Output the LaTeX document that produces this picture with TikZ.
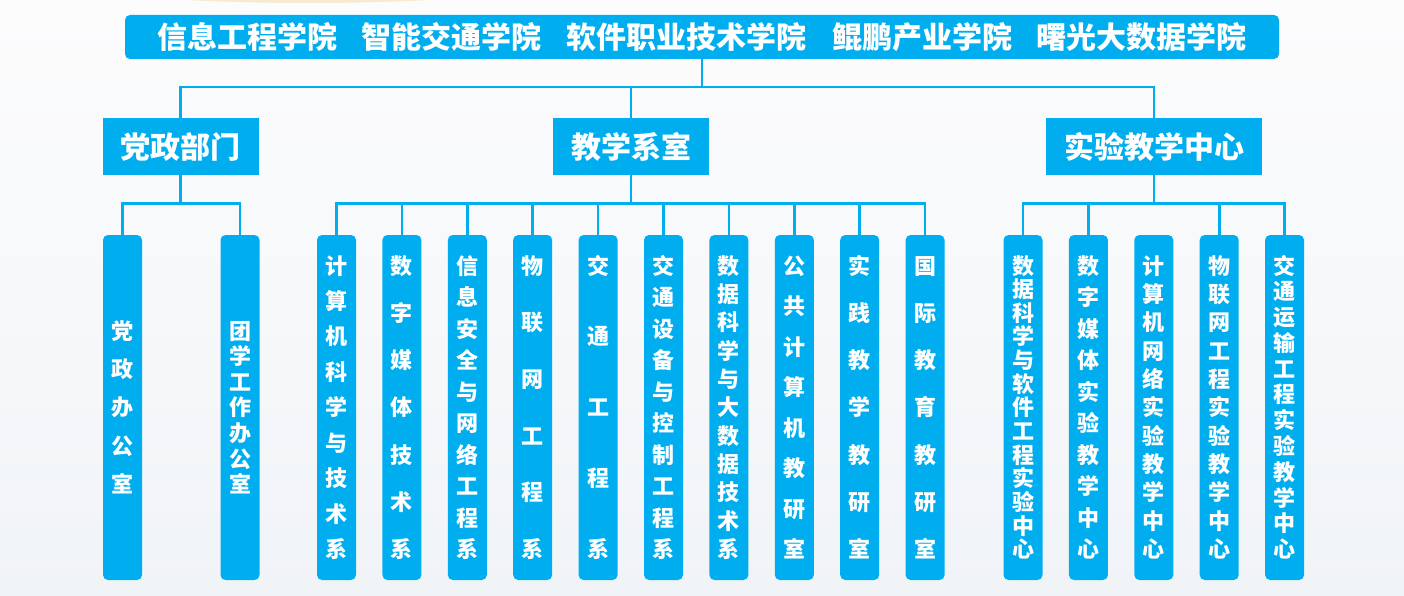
\documentclass[tikz,border=0pt]{standalone}
\usepackage{fontspec}
\usepackage{tikz}
\usetikzlibrary{positioning}

\newfontfamily\cjk{Noto Sans CJK SC}
\definecolor{boxblue}{RGB}{0,174,239}
\definecolor{bgtop}{RGB}{252,252,253}
\definecolor{bgbot}{RGB}{241,244,247}
\definecolor{glow}{RGB}{246,234,208}

% vertical text, chars spread over a fixed height
\newcommand\vstack[2]{\parbox[c][#1][s]{1.2em}{\offinterlineskip
  \foreach \ch [count=\k] in {#2}{\ifnum\k>1 \vfill\fi
    \hbox to 1.2em{\hss\rule[-0.12em]{0pt}{1em}\ch\hss}}}}

\tikzset{
  college/.style={rectangle, fill=boxblue, rounded corners=5pt, text=white,
    minimum width=1154pt, minimum height=44pt, inner sep=0pt,
    font=\cjk\bfseries\fontsize{30}{30}\selectfont},
  head/.style={rectangle, fill=boxblue, text=white, minimum height=57pt,
    inner xsep=18pt, inner ysep=0pt, font=\cjk\bfseries\fontsize{30}{30}\selectfont},
  unit/.style={rectangle, fill=boxblue, rounded corners=5pt, text=white,
    minimum width=39pt, minimum height=345pt, inner sep=0pt,
    font=\cjk\bfseries\fontsize{22}{22}\selectfont},
  link/.style={draw=boxblue, line width=2.6pt}
}

\begin{document}
\begin{tikzpicture}[x=1pt, y=-1pt, node distance=65.4pt]
    \shade[top color=bgtop, bottom color=bgbot] (0,0) rectangle (1404,596);
    \useasboundingbox (0,0) rectangle (1404,596);
    \fill[glow] (308,-17) ellipse [x radius=230, y radius=20];

    \node[college] (college) at (702,37) {信息工程学院\hspace{25pt}智能交通学院\hspace{25pt}软件职业技术学院\hspace{25pt}鲲鹏产业学院\hspace{25pt}曙光大数据学院};

    \node[head] (party) at (180.5,146.5) {党政部门};
    \node[head] (teach) at (631,146.5) {教学系室};
    \node[head] (lab) at (1154,146.5) {实验教学中心};

    % party units
    \node[unit] (p1) at (122.5,407.5) {\vstack{173pt}{党,政,办,公,室}};
    \node[unit] (p2) [node distance=117.5pt, right of=p1] {\vstack{173pt}{团,学,工,作,办,公,室}};

    % teaching units
    \node[unit] (t1) at (336.5,407.5) {\vstack{303pt}{计,算,机,科,学,与,技,术,系}};
    \node[unit] (t2) [right of=t1] {\vstack{303pt}{数,字,媒,体,技,术,系}};
    \node[unit] (t3) [right of=t2] {\vstack{303pt}{信,息,安,全,与,网,络,工,程,系}};
    \node[unit] (t4) [right of=t3] {\vstack{303pt}{物,联,网,工,程,系}};
    \node[unit] (t5) [right of=t4] {\vstack{303pt}{交,通,工,程,系}};
    \node[unit] (t6) [right of=t5] {\vstack{303pt}{交,通,设,备,与,控,制,工,程,系}};
    \node[unit] (t7) [right of=t6] {\vstack{303pt}{数,据,科,学,与,大,数,据,技,术,系}};
    \node[unit] (t8) [right of=t7] {\vstack{303pt}{公,共,计,算,机,教,研,室}};
    \node[unit] (t9) [right of=t8] {\vstack{303pt}{实,践,教,学,教,研,室}};
    \node[unit] (t10) [right of=t9] {\vstack{303pt}{国,际,教,育,教,研,室}};

    % lab units
    \node[unit] (l1) at (1023,407.5) {\vstack{303pt}{数,据,科,学,与,软,件,工,程,实,验,中,心}};
    \node[unit] (l2) [right of=l1] {\vstack{303pt}{数,字,媒,体,实,验,教,学,中,心}};
    \node[unit] (l3) [right of=l2] {\vstack{303pt}{计,算,机,网,络,实,验,教,学,中,心}};
    \node[unit] (l4) [right of=l3] {\vstack{303pt}{物,联,网,工,程,实,验,教,学,中,心}};
    \node[unit] (l5) [right of=l4] {\vstack{303pt}{交,通,运,输,工,程,实,验,教,学,中,心}};

    \draw[link] (college.south) -- ++(0,28) coordinate (top);
    \draw[link] (party.north) |- (top) -| (lab.north);
    \draw[link] (teach.north) -- (teach.north |- top);

    \draw[link] (party.south) -- ++(0,28) coordinate (pbus);
    \draw[link] (p1.north) |- (pbus) -| (p2.north);

    \draw[link] (teach.south) -- ++(0,28) coordinate (tbus);
    \draw[link] (t1.north) |- (tbus) -| (t10.north);
    \draw[link] (t2.north) -- (t2.north |- tbus) (t3.north) -- (t3.north |- tbus)
        (t4.north) -- (t4.north |- tbus) (t5.north) -- (t5.north |- tbus)
        (t6.north) -- (t6.north |- tbus) (t7.north) -- (t7.north |- tbus)
        (t8.north) -- (t8.north |- tbus) (t9.north) -- (t9.north |- tbus);

    \draw[link] (lab.south) -- ++(0,28) coordinate (lbus);
    \draw[link] (l1.north) |- (lbus) -| (l5.north);
    \draw[link] (l2.north) -- (l2.north |- lbus) (l4.north) -- (l4.north |- lbus);
\end{tikzpicture}
\end{document}
